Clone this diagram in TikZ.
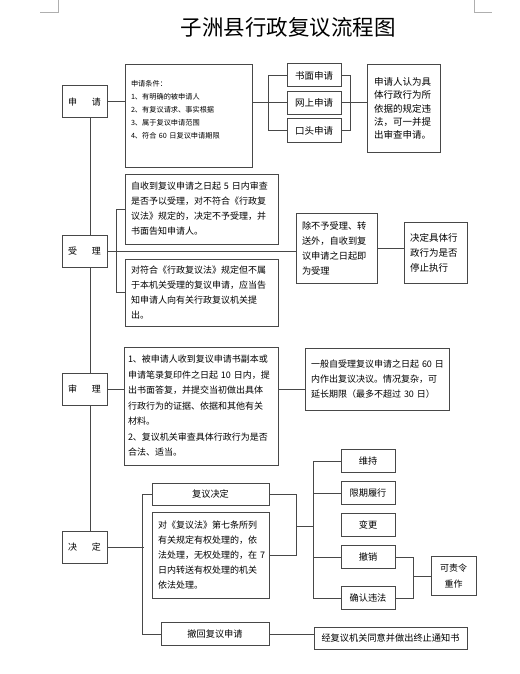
\documentclass[tikz,border=0pt]{standalone}
\usepackage{fontspec}
\setmainfont{Noto Sans CJK SC}
\usepackage{tikz}
\usetikzlibrary{positioning}
\definecolor{linec}{RGB}{72,72,72}
\definecolor{markc}{RGB}{175,175,175}

\begin{document}
\begin{tikzpicture}[x=1pt, y=1pt,
    every node/.style={inner sep=0pt},
    stage/.style={draw=linec, line width=1pt, minimum width=45pt, minimum height=32pt, font=\fontsize{9}{11}\selectfont},
    txt/.style={draw=linec, line width=1pt, align=left, inner xsep=6pt, font=\fontsize{9}{15}\selectfont},
    opt/.style={draw=linec, line width=1pt, minimum width=54pt, minimum height=23pt, font=\fontsize{9.2}{11}\selectfont},
    link/.style={draw=linec, line width=1pt}]
  \useasboundingbox (0,0) rectangle (519,-674);

  % page corner marks
  \draw[markc, line width=0.6pt] (40,-12) -- (58,-12) -- (58,0);
  \draw[markc, line width=0.6pt] (474,0) -- (474,-12) -- (492,-12);

  \node[font=\fontsize{21.5}{25}\selectfont] (title) at (288,-27) {子洲县行政复议流程图};

  % stages
  \node[stage] (ap) at (84.5,-102) {申\hspace{15pt}请};
  \node[stage] (acc) at (84.5,-251) {受\hspace{15pt}理};
  \node[stage] (rev) at (84.5,-389) {审\hspace{15pt}理};
  \node[stage] (dec) at (84.5,-547) {决\hspace{15pt}定};

  \draw[link] ([xshift=5.5pt]ap.south) -- ([xshift=5.5pt]acc.north);
  \draw[link] ([xshift=5.5pt]acc.south) -- ([xshift=5.5pt]rev.north);
  \draw[link] ([xshift=5.5pt]rev.south) -- ([xshift=5.5pt]dec.north);

  % application
  \node[txt, text width=115pt, minimum height=102pt, font=\fontsize{7.2}{13}\selectfont] (cond) at (188.5,-116)
    {申请条件：\\1、有明确的被申请人\\2、有复议请求、事实根据\\3、属于复议申请范围\\4、符合~60~日复议申请期限\\ \mbox{}};
  \node[opt, font=\fontsize{9.5}{11}\selectfont] (m1) at (314,-75.5) {书面申请};
  \node[opt, font=\fontsize{9.5}{11}\selectfont, below=3.5pt of m1] (m2) {网上申请};
  \node[opt, font=\fontsize{9.5}{11}\selectfont, below=3.5pt of m2] (m3) {口头申请};
  \node[txt, inner xsep=7pt, text width=59pt, minimum height=87pt, font=\fontsize{9.5}{13.3}\selectfont] (note) at (403.5,-108.5)
    {申请人认为具\\体行政行为所\\依据的规定违\\法，可一并提\\出审查申请。};

  \draw[link] (ap.east) -- (cond.west |- ap.east);
  \draw[link] (cond.east |- m2.west) -- (m2.west);
  \draw[link] (m1.west) -- ++(-18,0) |- (m3.west);
  \draw[link] (m1.east) -- ++(9,0) |- (m3.east);
  \draw[link] (m2.east) -- (note.west |- m2.east);

  % acceptance
  \node[txt, text width=141pt, minimum height=70pt] (accA) at (201.5,-209)
    {自收到复议申请之日起~5~日内审查\\是否予以受理，对不符合《行政复\\议法》规定的，决定不予受理，并\\书面告知申请人。};
  \node[txt, text width=141pt, minimum height=67pt] (accB) at (201.5,-292.5)
    {对符合《行政复议法》规定但不属\\于本机关受理的复议申请，应当告\\知申请人向有关行政复议机关提\\出。};
  \node[txt, text width=69pt, minimum height=70pt, font=\fontsize{9.2}{15}\selectfont] (accC) at (336.5,-248)
    {除不予受理、转\\送外，自收到复\\议申请之日起即\\为受理};
  \node[txt, text width=51pt, minimum height=61pt, font=\fontsize{9.5}{15}\selectfont] (accD) at (435.5,-252.5)
    {决定具体行\\政行为是否\\停止执行};

  \draw[link] (acc.east) -- (accC.west |- acc.east);
  \draw[link] (accA.west) -- ++(-8,0) |- (accB.west);
  \draw[link] (accC.east) -- (accD.west |- accC.east);

  % review
  \node[txt, inner xsep=4pt, text width=146pt, minimum height=118pt, font=\fontsize{9}{15.5}\selectfont] (revE) at (201,-406)
    {1、被申请人收到复议申请书副本或\\申请笔录复印件之日起~10~日内，提\\出书面答复，并提交当初做出具体\\行政行为的证据、依据和其他有关\\材料。\\2、复议机关审查具体行政行为是否\\合法、适当。};
  \node[txt, text width=132pt, minimum height=62pt] (revF) at (377,-379)
    {一般自受理复议申请之日起~60~日\\内作出复议决议。情况复杂，可\\延长期限（最多不超过~30~日）};

  \draw[link] (rev.east) -- (revE.west |- rev.east);
  \draw[link] (revE.east |- rev.east) -- (revF.west |- rev.east);

  % decision
  \node[opt, minimum width=117pt, minimum height=22pt] (fyjd) at (210.5,-494) {复议决定};
  \node[txt, text width=105pt, minimum height=86pt, font=\fontsize{9}{15}\selectfont] (dG) at (210.5,-555)
    {对《复议法》第七条所列\\有关规定有权处理的，依\\法处理，无权处理的，在~7\\日内转送有权处理的机关\\依法处理。};
  \node[opt, minimum width=108pt, minimum height=23pt] (wd) at (215,-634) {撤回复议申请};

  \node[opt] (wc) at (368,-461) {维持};
  \node[opt, below=8pt of wc] (xq) {限期履行};
  \node[opt, below=8pt of xq] (bg) {变更};
  \node[opt, below=8pt of bg] (cx) {撤销};
  \node[opt, below=17pt of cx] (qr) {确认违法};
  \node[draw=linec, line width=1pt, minimum width=45pt, minimum height=39pt, align=center, font=\fontsize{9}{16.7}\selectfont] (kz) at (453.5,-576) {可责令\\重作};
  \node[opt, minimum width=153pt, minimum height=22pt] (zz) at (390.5,-638) {经复议机关同意并做出终止通知书};
  \coordinate (jm) at (296,-526);

  \draw[link] (dec.east) -- ++(36,0);
  \draw[link] (fyjd.west) -- ++(-9,0) |- (wd.west);
  \draw[link] (fyjd.east) -- ++(27,0) |- (dG.east);
  \draw[link] (jm) -- ++(18,0);
  \draw[link] (wc.west) -- ++(-27,0) |- (qr.west);
  \draw[link] (xq.west) -- ++(-27,0);
  \draw[link] (cx.west) -- ++(-27,0);
  \draw[link] (cx.east) -- ++(18,0) |- (qr.east);
  \draw[link] (kz.west) -- ++(-18,0);
  \draw[link] (wd.east) -- (zz.west |- wd.east);
\end{tikzpicture}
\end{document}
